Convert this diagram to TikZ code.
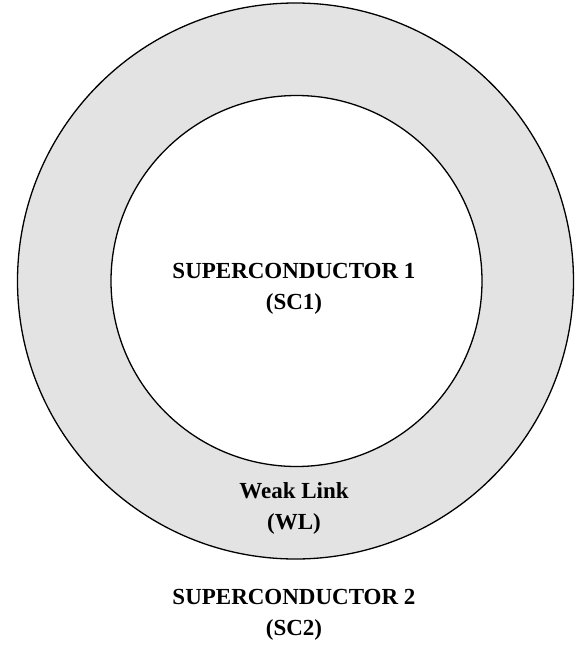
\documentclass[tikz,border=0pt]{standalone}
\usepackage{fontspec}
\setmainfont{Liberation Serif}
\definecolor{ringgray}{HTML}{E3E3E3}
\begin{document}
\begin{tikzpicture}[x=1pt,y=-1pt,
  ring/.style={draw=black, line width=1.3pt},
  lbl/.style={font=\fontsize{23}{31}\selectfont\bfseries, align=center, inner sep=0pt}]
\useasboundingbox (0,0) rectangle (584,646);
\fill[white] (0,0) rectangle (584,646);
\filldraw[ring, fill=ringgray] (295.5,281) circle[radius=278];
\filldraw[ring, fill=white] (296.5,281) circle[radius=185.5];
\node[lbl] (sc1) at (294,289) {SUPERCONDUCTOR 1\\(SC1)};
\node[lbl] (wl) at (294,508) {Weak Link\\(WL)};
\node[lbl] (sc2) at (294,615) {SUPERCONDUCTOR 2\\(SC2)};
\end{tikzpicture}
\end{document}
